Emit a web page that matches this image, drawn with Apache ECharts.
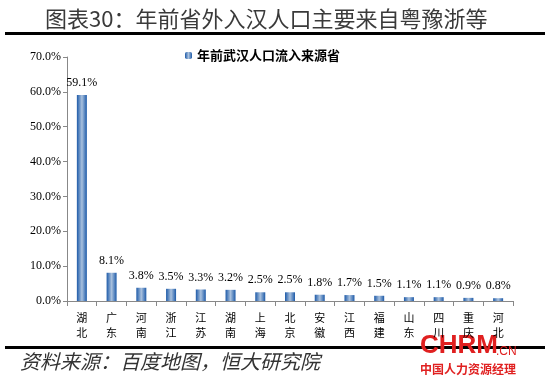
<!DOCTYPE html>
<html><head><meta charset="utf-8">
<script src="https://cdn.jsdelivr.net/npm/echarts@6/dist/echarts.min.js"></script>
<style>html,body{margin:0;padding:0;background:#fff}#c{width:550px;height:384px}</style>
</head><body><div id="c"></div>
<script>
const categories = ['湖北','广东','河南','浙江','江苏','湖南','上海','北京','安徽','江西','福建','山东','四川','重庆','河北'];
const values = [59.1, 8.1, 3.8, 3.5, 3.3, 3.2, 2.5, 2.5, 1.8, 1.7, 1.5, 1.1, 1.1, 0.9, 0.8];
const seriesName = '年前武汉人口流入来源省';
const yTicks = [0, 10, 20, 30, 40, 50, 60, 70];

const chart = echarts.init(document.getElementById('c'), null, {renderer:'canvas'});
const serif = '"Liberation Serif","DejaVu Serif","Noto Sans CJK SC",serif';
const cjk = '"Noto Sans CJK SC",sans-serif';
chart.setOption({
  animation:false,
  backgroundColor:'#fff',
  title:{
    text:'图表30：年前省外入汉人口主要来自粤豫浙等',
    left:40, top:3,
    textStyle:{fontFamily:cjk, fontSize:22, fontWeight:'normal', color:'#3a3a3a'}
  },
  graphic:[
    {type:'rect', shape:{x:5,y:32,width:540,height:3}, style:{fill:'#000'}},
    {type:'rect', shape:{x:5,y:346,width:540,height:3}, style:{fill:'#000'}},
    {type:'text', left:20, top:351, style:{text:'资料来源：百度地图，恒大研究院', font:'italic 20px "Noto Sans CJK SC",sans-serif', fill:'#333'}},
    {type:'text', left:420, top:333, style:{text:'CHRM', font:'bold 26px "Liberation Sans",sans-serif', fill:'#e02020'}},
    {type:'text', left:496, top:346, style:{text:'.CN', font:'12px "Liberation Sans",sans-serif', fill:'#e02020'}},
    {type:'text', left:420, top:363, style:{text:'中国人力资源经理', font:'bold 12px "Noto Sans CJK SC",sans-serif', fill:'#e02020'}}
  ],
  legend:{
    data:[seriesName], top:44, left:180,
    itemWidth:7, itemHeight:7, itemGap:4,
    textStyle:{fontFamily:cjk, fontSize:13, fontWeight:'bold', color:'#000'}
  },
  grid:{left:67, right:37, top:57, bottom:83},
  xAxis:{
    type:'category', data:categories,
    axisLine:{lineStyle:{color:'#888'}},
    axisTick:{show:true, alignWithLabel:false, length:5, lineStyle:{color:'#888'}},
    axisLabel:{
      interval:0, margin:9, lineHeight:15,
      fontFamily:cjk, fontSize:11, color:'#000',
      formatter:v=>v.split('').join('\n')
    }
  },
  yAxis:{
    type:'value', min:0, max:70, interval:10,
    axisLine:{show:true, lineStyle:{color:'#888'}},
    axisTick:{show:true, inside:false, length:4, lineStyle:{color:'#888'}},
    splitLine:{show:false},
    axisLabel:{fontFamily:serif, fontSize:12, color:'#000', margin:6, formatter:v=>v.toFixed(1)+'%'}
  },
  series:[{
    name:seriesName, type:'bar', data:values, barWidth:10,
    itemStyle:{color:new echarts.graphic.LinearGradient(0,0,1,0,[
      {offset:0,color:'#1d5aa8'},{offset:0.5,color:'#a9c1de'},{offset:1,color:'#1d5aa8'}])},
    label:{show:true, position:'top', distance:6, fontFamily:serif, fontSize:12, color:'#000',
      formatter:p=>p.value.toFixed(1)+'%'}
  }]
});
</script></body></html>
